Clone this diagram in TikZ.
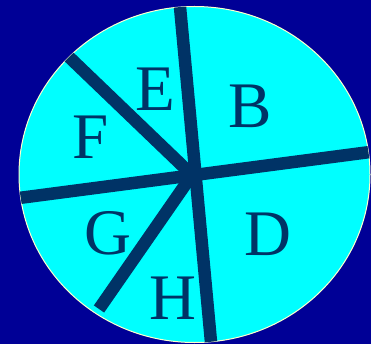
\documentclass[tikz,border=0pt]{standalone}
\usepackage{fontspec}
\setmainfont{Liberation Serif}
\usepackage{xcolor}
\usetikzlibrary{positioning}
\definecolor{bgblue}{RGB}{0,0,150}
\definecolor{piecyan}{RGB}{0,255,255}
\definecolor{spokenavy}{RGB}{0,51,102}
\definecolor{rimcream}{RGB}{255,255,204}

\begin{document}
\begin{tikzpicture}[x=1pt, y=-1pt,
  spoke/.style={draw=spokenavy, line width=12.5pt},
  slice/.style={text=spokenavy, font=\fontsize{65}{65}\selectfont, inner sep=0pt}]
\fill[bgblue] (0,0) rectangle (371,344);
\useasboundingbox (0,0) rectangle (371,344);
\filldraw[fill=piecyan, draw=rimcream, line width=1pt] (194.5,174.5) ellipse [x radius=175.5, y radius=168];

\coordinate (hub) at (192,175);
\coordinate (top) at (180,7);
\coordinate (bottom) at (211,342);
\coordinate (left) at (19,198);
\coordinate (right) at (370,152);
\coordinate (upleft) at (68,56);
\coordinate (lowleft) at (99,309);

\begin{scope}
\clip (194.5,174.5) ellipse [x radius=175.5, y radius=168];
\draw[spoke] (top) -- (bottom);
\draw[spoke] (left) -- (right);
\draw[spoke] (upleft) -- (hub);
\draw[spoke] (hub) -- (lowleft);
\end{scope}

\node[slice] (E) at (155,89) {E};
\node[slice] (B) at (250,106) {B};
\node[slice] (F) at (91,137) {F};
\node[slice] (G) at (108,233) {G};
\node[slice] (D) at (268,234) {D};
\node[slice] (H) at (173,298) {H};
\end{tikzpicture}
\end{document}
